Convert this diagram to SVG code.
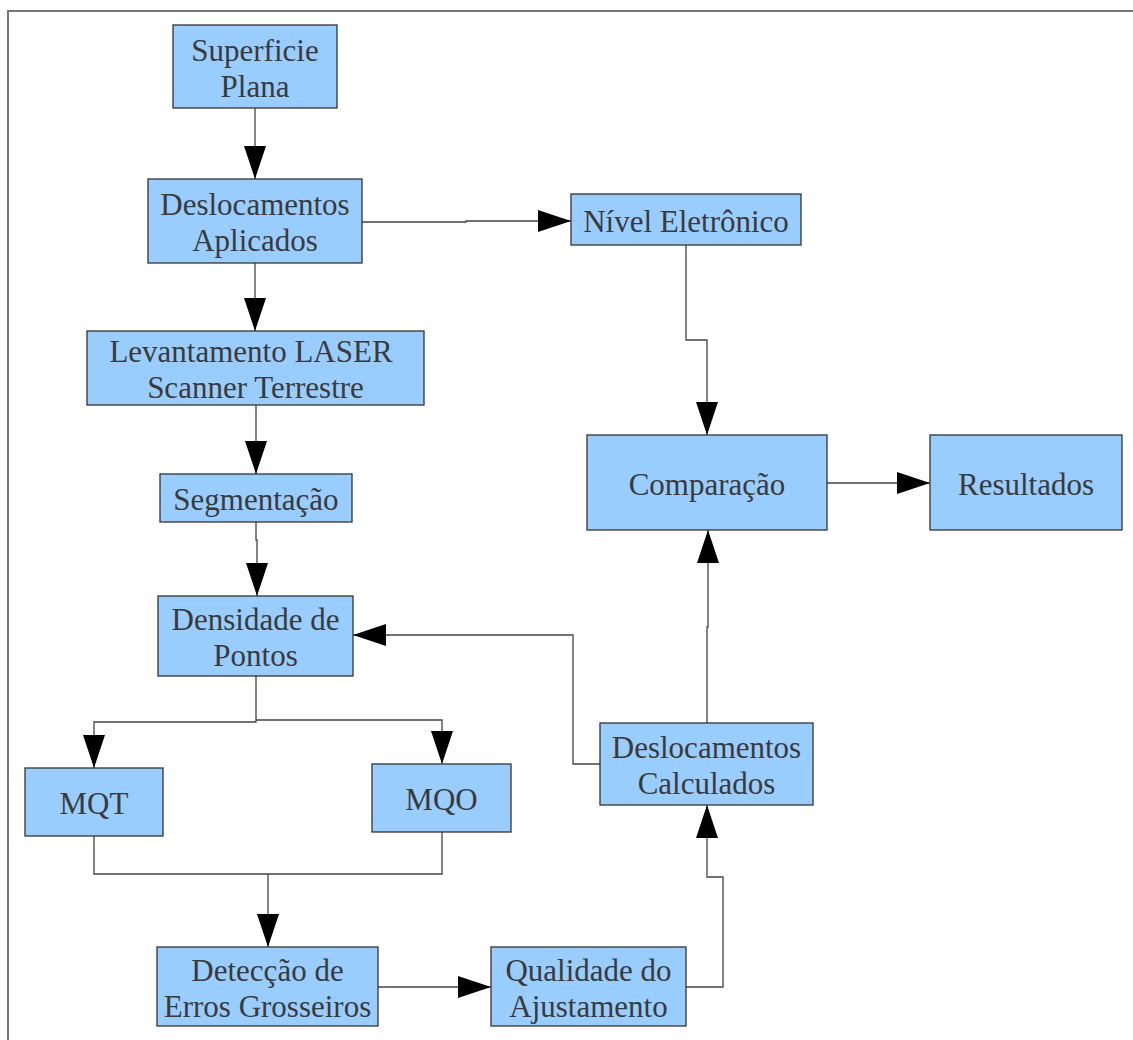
<svg xmlns="http://www.w3.org/2000/svg" width="1133" height="1040" viewBox="0 0 1133 1040">
<style>
.box{fill:#99ccff;stroke:#333333;stroke-width:1.3}
.t{font-family:'Liberation Serif','Tinos','DejaVu Serif',serif;font-size:31px;fill:#3a3a3a;text-anchor:middle}
.c{fill:none;stroke:#444444;stroke-width:1.3}
.frame{fill:none;stroke:#777777;stroke-width:2}
</style>
<defs>
<marker id="ah" markerUnits="userSpaceOnUse" markerWidth="34" markerHeight="22" refX="33" refY="11" orient="auto">
<path d="M0,0 L33,11 L0,22 Z" fill="#000000"/>
</marker>
</defs>
<rect width="1133" height="1040" fill="#ffffff"/>
<path class="frame" d="M8,1040 L8,11 L1133,11"/>
<g id="connectors">
<path class="c" marker-end="url(#ah)" d="M255,108 L255,179"/>
<path class="c" marker-end="url(#ah)" d="M255,263 L255,331"/>
<path class="c" marker-end="url(#ah)" d="M256,405 L256,474"/>
<path class="c" marker-end="url(#ah)" d="M256,522 L256,540 L257,540 L257,596"/>
<path class="c" marker-end="url(#ah)" d="M362,222 L466,222 L466,221 L571,221"/>
<path class="c" marker-end="url(#ah)" d="M686,245 L686,340 L707,340 L707,435"/>
<path class="c" marker-end="url(#ah)" d="M827,483 L930,483"/>
<path class="c" marker-end="url(#ah)" d="M256,676 L256,722 L94,722 L94,768"/>
<path class="c" marker-end="url(#ah)" d="M256,720 L442,720 L442,764"/>
<path class="c" d="M94,836 L94,874 L442,874 L442,832"/>
<path class="c" marker-end="url(#ah)" d="M268,874 L268,947"/>
<path class="c" marker-end="url(#ah)" d="M378,987 L435,987 L435,987 L491,987"/>
<path class="c" marker-end="url(#ah)" d="M686,987 L723,987 L723,877 L707,877 L707,805"/>
<path class="c" marker-end="url(#ah)" d="M707,723 L707,627 L708,627 L708,530"/>
<path class="c" marker-end="url(#ah)" d="M600,764 L573,764 L573,635 L353,635"/>
</g>
<g id="n1"><rect class="box" x="173" y="25" width="164" height="83"/><text class="t" x="255" y="61">Superficie</text><text class="t" x="255" y="97">Plana</text></g>
<g id="n2"><rect class="box" x="148" y="179" width="214" height="84"/><text class="t" x="255" y="215">Deslocamentos</text><text class="t" x="255" y="251">Aplicados</text></g>
<g id="n3"><rect class="box" x="571" y="194" width="230" height="51"/><text class="t" x="686" y="232">Nível Eletrônico</text></g>
<g id="n4"><rect class="box" x="87" y="331" width="337" height="74"/><text class="t" x="251" y="362">Levantamento LASER</text><text class="t" x="255.5" y="398">Scanner Terrestre</text></g>
<g id="n5"><rect class="box" x="160" y="474" width="192" height="48"/><text class="t" x="256" y="510">Segmentação</text></g>
<g id="n6"><rect class="box" x="158" y="596" width="195" height="80"/><text class="t" x="255.5" y="630">Densidade de</text><text class="t" x="255.5" y="666">Pontos</text></g>
<g id="n7"><rect class="box" x="587" y="435" width="240" height="95"/><text class="t" x="707" y="495">Comparação</text></g>
<g id="n8"><rect class="box" x="930" y="435" width="192" height="95"/><text class="t" x="1026" y="495">Resultados</text></g>
<g id="n9"><rect class="box" x="25" y="768" width="138" height="68"/><text class="t" x="94" y="814">MQT</text></g>
<g id="n10"><rect class="box" x="372" y="764" width="139" height="68"/><text class="t" x="441.5" y="810">MQO</text></g>
<g id="n11"><rect class="box" x="600" y="723" width="213" height="82"/><text class="t" x="706.5" y="758">Deslocamentos</text><text class="t" x="706.5" y="794">Calculados</text></g>
<g id="n12"><rect class="box" x="157" y="947" width="221" height="79"/><text class="t" x="267.5" y="981">Detecção de</text><text class="t" x="267.5" y="1017">Erros Grosseiros</text></g>
<g id="n13"><rect class="box" x="491" y="947" width="195" height="79"/><text class="t" x="588.5" y="981">Qualidade do</text><text class="t" x="588.5" y="1017">Ajustamento</text></g>
</svg>
